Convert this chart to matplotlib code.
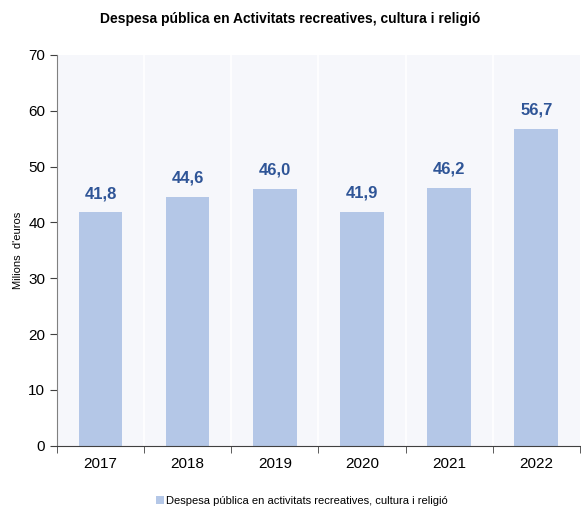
import numpy as np
import matplotlib.pyplot as plt

years = ["2017", "2018", "2019", "2020", "2021", "2022"]
values = [41.8, 44.6, 46.0, 41.9, 46.2, 56.7]
labels = ["41,8", "44,6", "46,0", "41,9", "46,2", "56,7"]

plt.rcParams['font.family'] = ['Liberation Sans', 'DejaVu Sans']

fig = plt.figure(figsize=(5.81, 5.13), dpi=100)
ax = fig.add_axes([0.098, 0.131, 0.900, 0.762])

x = np.arange(len(years))
ax.set_facecolor("#F6F7FB")
for b in np.arange(0.5, len(years) - 0.5, 1.0):
    ax.axvline(b, color="white", lw=1.2, zorder=1)

bars = ax.bar(x, values, width=0.5, color="#B4C7E7", zorder=2,
              label="Despesa pública en activitats recreatives, cultura i religió")

for xi, v, lab in zip(x, values, labels):
    ax.text(xi, v + 2.0, lab, ha="center", va="bottom", fontsize=12,
            fontweight="bold", color="#2F5597")

ax.set_xlim(-0.5, len(years) - 0.5)
ax.set_ylim(0, 70)
ax.set_yticks(np.arange(0, 71, 10))
ax.set_xticks(x)
ax.set_xticklabels(years)
ax.set_xticks(np.arange(-0.5, len(years), 1.0), minor=True)
ax.tick_params(axis="x", which="major", length=0, labelsize=11, pad=8)
ax.tick_params(axis="x", which="minor", length=5, direction="out", color="#404040")
ax.tick_params(axis="y", length=5, direction="out", labelsize=11, color="#404040")

for s in ["top", "right"]:
    ax.spines[s].set_visible(False)
ax.spines["left"].set_color("#808080")
ax.spines["bottom"].set_color("#404040")

ax.set_ylabel("Milions  d'euros", fontsize=8)
ax.yaxis.set_label_coords(-0.065, 0.5)

fig.text(0.5, 0.962, "Despesa pública en Activitats recreatives, cultura i religió",
         ha="center", va="center", fontsize=10, fontweight="bold")

fig.legend(handles=[bars], loc="lower center", bbox_to_anchor=(0.52, -0.005),
           frameon=False, fontsize=8, handlelength=0.7, handleheight=0.7,
           handletextpad=0.2)

fig.savefig("out.png", dpi=100)
